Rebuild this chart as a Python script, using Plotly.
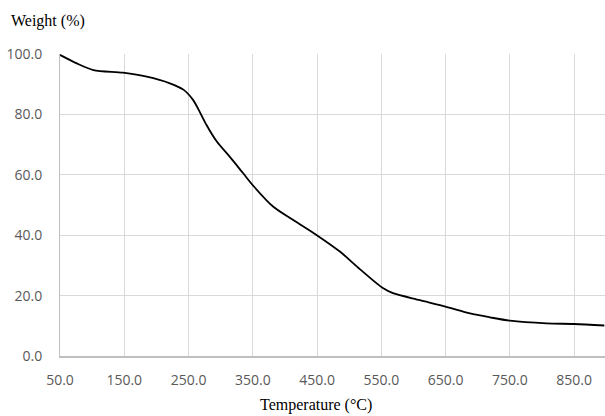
import plotly.graph_objects as go

temperature = [50, 76, 102, 148, 185, 221, 242, 257, 268, 278, 294, 314, 335, 351, 382, 413, 449, 486, 517, 553, 568, 610, 651, 688, 719, 750, 807, 850, 897]
weight = [99.7, 96.9, 94.7, 93.8, 92.5, 90.3, 88.2, 84.8, 80.6, 76.5, 71.0, 66.0, 60.5, 56.3, 49.4, 45.0, 40.1, 34.5, 28.7, 22.4, 20.8, 18.5, 16.3, 14.1, 12.8, 11.7, 10.8, 10.6, 10.1]
x_ticks = [50, 150, 250, 350, 450, 550, 650, 750, 850]
y_ticks = [0, 20, 40, 60, 80, 100]

fig = go.Figure()
fig.add_trace(go.Scatter(
    x=temperature, y=weight, mode="lines",
    line=dict(color="black", width=1.8, shape="spline", smoothing=0.8),
    showlegend=False, hoverinfo="skip",
))

tick_font = dict(family="Open Sans, Noto Sans, sans-serif", size=14, color="#595959")
fig.update_layout(
    width=605, height=416,
    margin=dict(l=60, r=0, t=54, b=60),
    paper_bgcolor="white", plot_bgcolor="white",
    xaxis=dict(
        range=[50, 898], tickvals=x_ticks,
        ticktext=[f"{v:.1f}" for v in x_ticks],
        showgrid=True, gridcolor="#d9d9d9", gridwidth=1.3,
        showline=True, linecolor="#bfbfbf", linewidth=1.5,
        zeroline=False, ticks="", tickfont=tick_font,
        ticklabelstandoff=10, automargin=False,
    ),
    yaxis=dict(
        range=[0, 100], tickvals=y_ticks,
        ticktext=[f"{v:.1f}" for v in y_ticks],
        showgrid=True, gridcolor="#d9d9d9", gridwidth=1.3,
        showline=True, linecolor="#bfbfbf", linewidth=1,
        zeroline=False, ticks="", tickfont=tick_font,
        ticklabelstandoff=14, automargin=False,
    ),
    annotations=[
        dict(text="Weight (%)", xref="paper", yref="paper", x=-60/545, y=1 + 33/302,
             xanchor="left", yanchor="middle", showarrow=False, xshift=9,
             font=dict(family="Liberation Serif, Times New Roman, serif", size=16, color="black")),
        dict(text="Temperature (°C)", xref="paper", yref="paper", x=(316-60)/545, y=-49/302,
             xanchor="center", yanchor="middle", showarrow=False,
             font=dict(family="Liberation Serif, Times New Roman, serif", size=16, color="black")),
    ],
)

fig.write_html("out.html", config={"displayModeBar": False},
               post_script="document.body.style.margin='0';document.body.style.overflow='hidden';")
